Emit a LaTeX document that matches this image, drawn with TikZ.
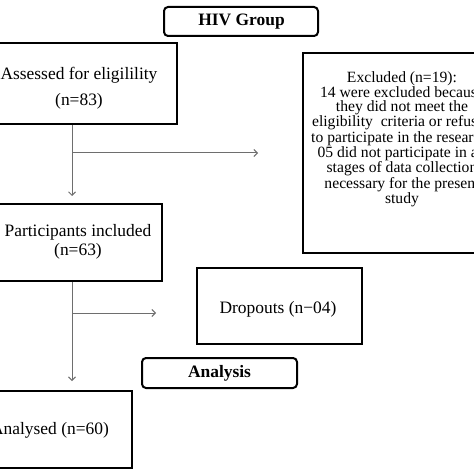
\documentclass[tikz,border=0pt]{standalone}
\usepackage{fontspec}
\setmainfont{Liberation Serif}
\usetikzlibrary{arrows.meta}
\definecolor{conncol}{HTML}{6E6E6E}
\tikzset{
  px/.style={x=1bp,y=-1bp},
  boxnode/.style={draw=black,line width=2bp,rectangle,inner sep=0pt},
  roundbox/.style={draw=black,line width=2bp,rectangle,rounded corners=4bp,inner sep=0pt},
  txt/.style={inner sep=0pt,align=center,font=\fontsize{17.5}{18}\selectfont},
  btxt/.style={inner sep=0pt,align=center,font=\fontsize{17.5}{18}\selectfont\bfseries},
  smalltxt/.style={inner sep=0pt,align=center,font=\fontsize{15.7}{14.15}\selectfont},
  conn/.style={draw=conncol,line width=1bp,-{Straight Barb[length=3.5bp,width=7bp]}},
  plainconn/.style={draw=conncol,line width=1bp}
}
\begin{document}
\begin{tikzpicture}[px]
\useasboundingbox (0,0) rectangle (474,474);
\clip (0,0) rectangle (474,474);
\fill[white] (0,0) rectangle (474,474);
% header boxes
\node[roundbox,minimum width=154bp,minimum height=29bp] (hiv) at (241,21.5) {};
\node[btxt] (hivt) at (241.5,22) {HIV Group};
\node[roundbox,minimum width=155bp,minimum height=30bp] (ana) at (219.5,373) {};
\node[btxt] (anat) at (219.5,373) {Analysis};
% boxes
\node[boxnode,minimum width=192bp,minimum height=81bp] (assess) at (81,83.5) {};
\node[txt] (assesst1) at (79,75) {Assessed for eligilility};
\node[txt] (assesst2) at (79,101) {(n=83)};
\node[boxnode,minimum width=168bp,minimum height=77bp] (part) at (78,242.5) {};
\node[txt] (partt1) at (78,232) {Participants included};
\node[txt] (partt2) at (78,251) {(n=63)};
\node[boxnode,minimum width=166bp,minimum height=77bp] (anald) at (49,429.5) {};
\node[txt] (analdt) at (50,430) {Analysed (n=60)};
\node[boxnode,minimum width=165bp,minimum height=76bp] (drop) at (279.5,306) {};
\node[txt] (dropt) at (278,309) {Dropouts (n−04)};
\node[boxnode,minimum width=202bp,minimum height=200bp] (excl) at (404,153) {};
\node[smalltxt] (exclt) at (402,139) {Excluded (n=19):\\14 were excluded because\\they did not meet the\\eligibility\ \ criteria or refused\\to participate in the research;\hspace*{12bp}\\05 did not participate in all\\stages of data collection\\necessary for the present\\study};
% connectors
\coordinate (j1) at (72,153);
\coordinate (e1) at (258,153);
\coordinate (j2) at (72,313);
\coordinate (e2) at (156,313);
\draw[conn,shorten >=7bp] (assess.south -| j1) -- (j1 |- part.north);
\draw[conn] (j1) -- (e1);
\draw[conn,shorten >=9bp] (part.south -| j2) -- (j2 |- anald.north);
\draw[conn] (j2) -- (e2);
\end{tikzpicture}
\end{document}
